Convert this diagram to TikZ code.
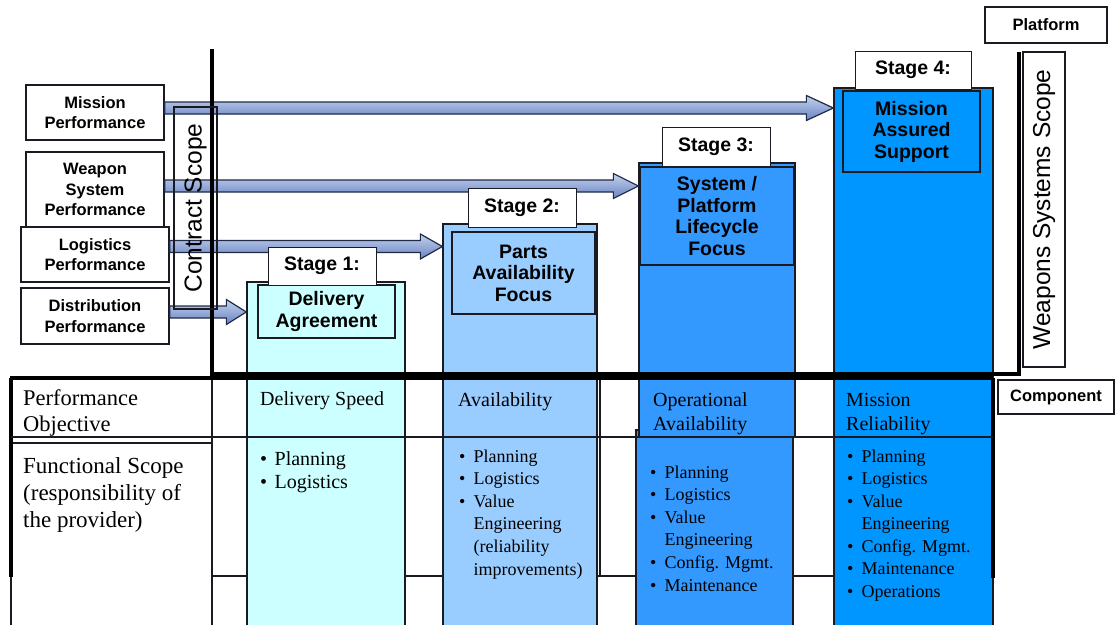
\documentclass[tikz,border=0pt]{standalone}
\usepackage{fontspec}
\setmainfont{Liberation Serif}
\newfontfamily\hv{Liberation Sans}
\usetikzlibrary{calc}
\definecolor{cA}{HTML}{CCFFFF}
\definecolor{cB}{HTML}{99CCFF}
\definecolor{cC}{HTML}{3399FF}
\definecolor{cD}{HTML}{0096FF}
\definecolor{arrTop}{HTML}{C3D1EE}
\definecolor{arrBot}{HTML}{6A84C2}
\definecolor{arrLine}{HTML}{1F2A44}
\definecolor{edge}{HTML}{1A1A22}
\newcommand\blockarrow[3]{\path[barrow] let \p1=(#1),\p2=(#2) in
  (\x1,\y1+6pt) -- (\x2-#3pt,\y1+6pt) -- (\x2-#3pt,\y1+12.5pt) -- (\x2,\y1)
  -- (\x2-#3pt,\y1-12.5pt) -- (\x2-#3pt,\y1-6pt) -- (\x1,\y1-6pt) -- cycle;}
\newcommand\bi{\makebox[14.5pt][l]{\textbullet}}
\newcommand\bj{\hspace*{14.5pt}}
\begin{document}
\begin{tikzpicture}[x=1pt,y=-1pt,
  pbox/.style={draw=edge, line width=1.3pt, fill=white, inner sep=0pt, align=center,
    font=\hv\bfseries\fontsize{16.5}{20.5}\selectfont},
  stlab/.style={draw=edge, line width=1pt, fill=white, inner sep=0pt,
    font=\hv\bfseries\fontsize{19.5}{21.5}\selectfont},
  inbox/.style={draw=edge, line width=1.3pt, inner sep=0pt, align=center,
    font=\hv\bfseries\fontsize{19.5}{21.5}\selectfont},
  colbox/.style={draw=edge, line width=1.3pt, inner sep=0pt},
  scopebox/.style={draw=edge, line width=1.3pt, inner sep=0pt, rotate=90,
    font=\hv\fontsize{24.5}{26}\selectfont},
  barrow/.style={draw=arrLine, line width=1.2pt, top color=arrTop, bottom color=arrBot},
  thinline/.style={draw=edge, line width=1.2pt},
  thickline/.style={draw=black, line width=3.2pt},
  celltext/.style={anchor=base west, inner sep=0pt, font=\fontsize{20}{22.6}\selectfont},
  bullettext/.style={anchor=base west, inner sep=0pt, font=\fontsize{18}{22.6}\selectfont},
]
\useasboundingbox (0,0) rectangle (1115,624);
\clip (0,0) rectangle (1115,624);
\fill[white] (0,0) rectangle (1115,624);

% performance boxes
\node[pbox, minimum width=138pt, minimum height=55pt] (mp) at (95,112.5) {Mission\\Performance};
\node[pbox, minimum width=138pt, minimum height=75pt] (wsp) at (95,189.5) {Weapon\\System\\Performance};
\node[pbox, minimum width=148pt, minimum height=55pt] (lp) at (95,254.5) {Logistics\\Performance};
\node[pbox, minimum width=148pt, minimum height=56pt] (dp) at (95,316) {Distribution\\Performance};

% table thin grid (under the columns)
\draw[thinline] (11,577) -- (11,630);
\draw[thinline] (212,378) -- (212,630);
\draw[thinline] (11,443) -- (212,443);
\draw[thinline] (212,576) -- (247,576) (405,576) -- (443,576) (597,576) -- (636,576) (793,576) -- (834,576);
\draw[thinline] (600,378) -- (600,576);

% stage columns
\node[colbox, fill=cA, minimum width=158pt, minimum height=348pt] (s1) at (326,456) {};
\node[colbox, fill=cB, minimum width=154pt, minimum height=406pt] (s2) at (520,427) {};
\node[colbox, fill=cC, minimum width=157pt, minimum height=200pt] (s3b) at (714.5,530) {};
\node[colbox, fill=cC, minimum width=156pt, minimum height=274pt] (s3) at (717,300) {};
\node[colbox, fill=cD, minimum width=159pt, minimum height=542pt] (s4) at (913.5,359) {};

% arrow levels
\coordinate (y1) at (0,108);
\coordinate (y2) at (0,186);
\coordinate (y3) at (0,246.5);
\coordinate (y4) at (0,312);
\blockarrow{mp.east |- y1}{s4.west |- y1}{27}
\blockarrow{wsp.east |- y2}{s3.west |- y2}{25}
\blockarrow{lp.east |- y3}{s2.west |- y3}{22}
\blockarrow{dp.east |- y4}{s1.west |- y4}{20}

% inner boxes
\node[inbox, fill=cA, minimum width=137pt, minimum height=53pt] (i1) at (326.5,311.5) {Delivery\\Agreement};
\node[inbox, fill=cB, minimum width=143pt, minimum height=82pt] (i2) at (523.5,273) {Parts\\Availability\\Focus};
\node[inbox, fill=cC, minimum width=154pt, minimum height=98pt] (i3) at (717,216) {System /\\Platform\\Lifecycle\\Focus};
\node[inbox, fill=cD, minimum width=137pt, minimum height=81pt] (i4) at (911.5,131.5) {Mission\\Assured\\Support};

% stage labels
\node[stlab, minimum width=108pt, minimum height=38pt] (l1) at (322,266) {Stage 1:};
\node[stlab, minimum width=108pt, minimum height=39pt] (l2) at (522,207.5) {Stage 2:};
\node[stlab, minimum width=108pt, minimum height=39pt] (l3) at (716,146.5) {Stage 3:};
\node[stlab, minimum width=116pt, minimum height=38pt] (l4) at (913,70) {Stage 4:};

% thick frame lines
\draw[thickline] (212,49) -- (212,374) -- (1019,374) -- (1019,52);
\draw[thickline] (10,378) -- (993,378);
\draw[thickline] (11,378) -- (11,577);
\draw[thickline] (993,378) -- (993,578);
\draw[thinline] (11,437) -- (993,437);

% scope boxes
\node[scopebox, minimum width=202pt, minimum height=43pt] (cs) at (195.5,208) {Contract Scope};
\node[scopebox, fill=white, minimum width=315pt, minimum height=42pt] (ws) at (1044,209.5) {Weapons Systems Scope};
\node[pbox, minimum width=122pt, minimum height=36pt] (pf) at (1046,25) {Platform};
\node[pbox, minimum width=116pt, minimum height=34pt] (cp) at (1056,397) {Component};

% table texts
\node[celltext, font=\fontsize{22.5}{26}\selectfont] (po) at (23,405)
  {\begin{tabular}[t]{@{}l@{}}Performance\\Objective\end{tabular}};
\node[celltext, font=\fontsize{23}{27}\selectfont] (fs) at (23,473)
  {\begin{tabular}[t]{@{}l@{}}Functional Scope\\(responsibility of\\the provider)\end{tabular}};

\node[celltext] (o1) at (260,405) {Delivery Speed};
\node[celltext, font=\fontsize{20}{23}\selectfont] (f1) at (260,465)
  {\begin{tabular}[t]{@{}l@{}}\bi Planning\\\bi Logistics\end{tabular}};

\node[celltext] (o2) at (458,406) {Availability};
\node[bullettext] (f2) at (459,462)
  {\begin{tabular}[t]{@{}l@{}}\bi Planning\\\bi Logistics\\\bi Value\\\bj Engineering\\\bj (reliability\\\bj improvements)\end{tabular}};

\node[celltext, font=\fontsize{20}{24}\selectfont] (o3) at (653,406)
  {\begin{tabular}[t]{@{}l@{}}Operational\\Availability\end{tabular}};
\node[bullettext] (f3) at (650,478)
  {\begin{tabular}[t]{@{}l@{}}\bi Planning\\\bi Logistics\\\bi Value\\\bj Engineering\\\bi Config. Mgmt.\\\bi Maintenance\end{tabular}};

\node[celltext, font=\fontsize{20}{24}\selectfont] (o4) at (846,406)
  {\begin{tabular}[t]{@{}l@{}}Mission\\Reliability\end{tabular}};
\node[bullettext, font=\fontsize{18}{22.5}\selectfont] (f4) at (847,462)
  {\begin{tabular}[t]{@{}l@{}}\bi Planning\\\bi Logistics\\\bi Value\\\bj Engineering\\\bi Config. Mgmt.\\\bi Maintenance\\\bi Operations\end{tabular}};
\end{tikzpicture}
\end{document}
